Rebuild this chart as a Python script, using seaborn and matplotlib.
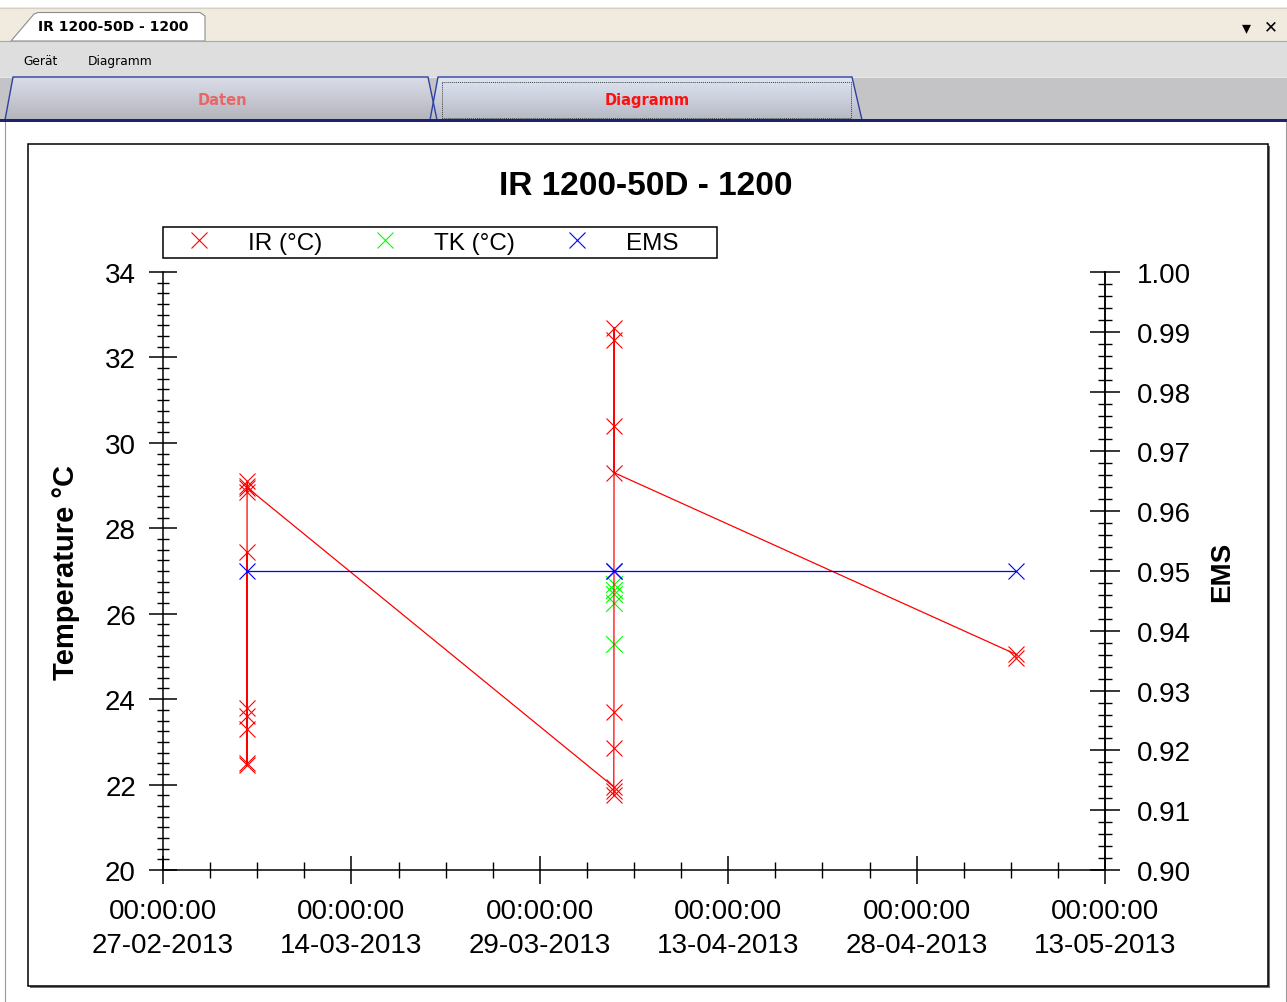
import numpy as np
import pandas as pd
import matplotlib
matplotlib.use("Agg")
import matplotlib.pyplot as plt
import matplotlib.dates as mdates
from matplotlib.ticker import FixedLocator, AutoMinorLocator, MultipleLocator, FormatStrFormatter
from matplotlib.patches import Rectangle, Polygon
from matplotlib.lines import Line2D
import seaborn as sns

# --- data ---
chart_title = "IR 1200-50D - 1200"
series_labels = ["IR (°C)", "TK (°C)", "EMS"]
series_colors = ["#FF0000", "#00FF00", "#0000FF"]

ir_times = [
    "2013-03-05 15:40", "2013-03-05 15:50", "2013-03-05 16:00", "2013-03-05 16:10",
    "2013-03-05 16:20", "2013-03-05 16:30", "2013-03-05 16:40", "2013-03-05 16:50",
    "2013-03-05 17:00", "2013-03-05 17:10",
    "2013-04-03 21:00", "2013-04-03 21:10", "2013-04-03 21:20", "2013-04-03 21:30",
    "2013-04-03 21:40", "2013-04-03 21:50", "2013-04-03 22:00", "2013-04-03 22:10",
    "2013-04-03 22:20",
    "2013-05-05 21:40", "2013-05-05 21:50",
]
ir_values = [
    23.6, 22.5, 27.45, 22.45, 23.3, 23.8, 29.0, 28.85, 29.1, 28.95,
    21.95, 21.75, 21.85, 22.85, 23.7, 30.4, 32.7, 32.4, 29.3,
    25.05, 24.97,
]

tk_times = ["2013-04-03 21:30", "2013-04-03 21:40", "2013-04-03 21:50",
            "2013-04-03 22:00", "2013-04-03 22:10"]
tk_values = [26.7, 26.55, 26.45, 26.25, 25.28]

ems_times = ["2013-03-05 16:30", "2013-04-03 21:40", "2013-04-03 21:50", "2013-05-05 21:45"]
ems_values = [0.95, 0.95, 0.95, 0.95]

tick_dates = ["2013-02-27", "2013-03-14", "2013-03-29", "2013-04-13", "2013-04-28", "2013-05-13"]

ir_df = pd.DataFrame({"time": pd.to_datetime(ir_times), "value": ir_values})
tk_df = pd.DataFrame({"time": pd.to_datetime(tk_times), "value": tk_values})
ems_df = pd.DataFrame({"time": pd.to_datetime(ems_times), "value": ems_values})

plt.rcParams["font.family"] = ["Liberation Sans", "DejaVu Sans"]

W, H = 1287, 1003
fig = plt.figure(figsize=(W / 100, H / 100), dpi=100)

# --- window chrome, drawn in pixel coordinates ---
bg = fig.add_axes([0, 0, 1, 1])
bg.set_xlim(0, W)
bg.set_ylim(H, 0)
bg.axis("off")

ui = ["DejaVu Sans"]
bg.add_patch(Rectangle((0, 8), W, 34, fc="#F1EBDF", ec="none"))
bg.plot([0, W], [8.5, 8.5], color="#D6D0C4", lw=0.8)
bg.add_patch(Polygon([(11, 42), (34, 15), (38, 13.5), (200, 13.5), (205, 17), (205, 42)],
                     closed=True, fc="white", ec="#8C8C8C", lw=0.8))
bg.text(38, 27, chart_title, fontsize=10, fontweight="bold", family=ui, va="center")
bg.text(1246, 28, "▾", fontsize=13, family=ui, ha="center", va="center")
bg.text(1271, 27, "✕", fontsize=12, family=ui, ha="center", va="center")

bg.add_patch(Rectangle((0, 42), W, 36, fc="#DEDEDE", ec="none"))
bg.plot([0, W], [42, 42], color="#A8A8A8", lw=0.8)
bg.text(23, 61, "Gerät", fontsize=8.8, family=ui, va="center")
bg.text(88, 61, "Diagramm", fontsize=8.8, family=ui, va="center")

bg.add_patch(Rectangle((0, 78), W, 43, fc="#C4C3C6", ec="none"))
bg.plot([0, W], [78, 78], color="#E6E6E6", lw=0.8)


def tab(pts, top, bottom, label, color, x_text):
    poly = Polygon(pts, closed=True, fc="none", ec="#3040A0", lw=1.0, zorder=3)
    bg.add_patch(poly)
    grad = np.linspace(0, 1, 64)[:, None, None]
    c0 = np.array(matplotlib.colors.to_rgb(top))
    c1 = np.array(matplotlib.colors.to_rgb(bottom))
    img = c0 * (1 - grad) + c1 * grad
    xs = [p[0] for p in pts]
    im = bg.imshow(img, extent=(min(xs), max(xs), 121, 78), origin="upper",
                   aspect="auto", zorder=2)
    im.set_clip_path(poly)
    bg.text(x_text, 100, label, fontsize=10.5, fontweight="bold", color=color,
            family=ui, ha="center", va="center", zorder=4)


tab([(5, 121), (13, 78), (428, 78), (437, 121)], "#DADDE9", "#B4B4BC", "Daten", "#E86666", 222)
tab([(430, 121), (438, 78), (852, 78), (862, 121)], "#DEE6F3", "#B6B9C4", "Diagramm", "#FF1010", 647)
bg.add_patch(Rectangle((442, 83), 409, 36, fill=False, ec="#404040", lw=0.7,
                       ls=(0, (1, 1)), zorder=4))
bg.set_xlim(0, W)
bg.set_ylim(H, 0)

bg.add_patch(Rectangle((0, 120), W, 2.5, fc="#1C2470", ec="none", zorder=5))
bg.add_patch(Rectangle((0, 122.5), W, H - 122.5, fc="white", ec="none"))
bg.plot([5, 5], [122, H], color="#9A9A9A", lw=0.8)
bg.plot([1285.5, 1285.5], [122, H], color="#9A9A9A", lw=0.8)

# chart panel with a small shadow
bg.add_patch(Rectangle((30, 147), 1240, 842, fc="#707070", ec="none"))
bg.add_patch(Rectangle((28, 145), 1240, 842, fc="white", ec="black", lw=1.1))

# legend frame
bg.add_patch(Rectangle((163, 228), 554, 31, fill=False, ec="black", lw=1.1))

fig.text(646 / W, 1 - 187 / H, chart_title, ha="center", va="center",
         fontsize=24, fontweight="bold")

# --- chart ---
ax = fig.add_axes([163 / W, (H - 871) / H, 942 / W, (871 - 273) / H])
ax2 = ax.twinx()

sns.scatterplot(data=tk_df, x="time", y="value", ax=ax, marker="x", color=series_colors[1],
                s=144, linewidth=0.8, legend=False, zorder=2)
sns.lineplot(data=ir_df, x="time", y="value", ax=ax, sort=False, estimator=None,
             color=series_colors[0], linewidth=0.9, marker="x", markersize=12,
             markeredgewidth=0.8, markeredgecolor=series_colors[0], legend=False, zorder=3)
sns.lineplot(data=ems_df, x="time", y="value", ax=ax2, sort=False, estimator=None,
             color=series_colors[2], linewidth=0.9, marker="x", markersize=12,
             markeredgewidth=0.8, markeredgecolor=series_colors[2], legend=False, zorder=3)

tick_nums = mdates.date2num(pd.to_datetime(tick_dates))
ax.set_xlim(tick_nums[0], tick_nums[-1])
ax.xaxis.set_major_locator(FixedLocator(tick_nums))
ax.xaxis.set_major_formatter(mdates.DateFormatter("%H:%M:%S\n%d-%m-%Y"))
ax.xaxis.set_minor_locator(AutoMinorLocator(4))

ax.set_ylim(20, 34)
ax.yaxis.set_major_locator(MultipleLocator(2))
ax.yaxis.set_minor_locator(MultipleLocator(0.25))
ax2.set_ylim(0.90, 1.00)
ax2.yaxis.set_major_locator(MultipleLocator(0.01))
ax2.yaxis.set_minor_locator(MultipleLocator(0.002))
ax2.yaxis.set_major_formatter(FormatStrFormatter("%.2f"))

ax.tick_params(axis="both", which="major", direction="inout", length=20, width=1.1,
               labelsize=20, color="black")
ax.tick_params(axis="y", which="major", pad=9.5)
ax.tick_params(axis="x", which="major", pad=10.5)
ax.tick_params(axis="y", which="minor", direction="inout", length=8, width=1.0)
ax.tick_params(axis="x", which="minor", direction="inout", length=11, width=1.0)
ax2.tick_params(axis="y", which="major", direction="inout", length=22, width=1.1,
                labelsize=20, pad=12)
ax2.tick_params(axis="y", which="minor", direction="inout", length=10, width=1.0)

for lbl in ax.get_xticklabels():
    lbl.set_linespacing(1.38)

for a in (ax, ax2):
    a.spines["top"].set_visible(False)
    for s in ("left", "right", "bottom"):
        a.spines[s].set_linewidth(1.1)
ax2.spines["left"].set_visible(False)
ax2.spines["bottom"].set_visible(False)

ax.set_xlabel("")
ax.set_ylabel("Temperature °C", fontsize=21, fontweight="bold")
ax.yaxis.set_label_coords(-0.088, 0.5)
ax2.set_xlabel("")
ax2.set_ylabel("EMS", fontsize=20, fontweight="bold", rotation=90)
ax2.yaxis.set_label_coords(1.111, 0.5)

handles = [Line2D([], [], linestyle="None", marker="x", markersize=12, markeredgewidth=0.8,
                  color=c) for c in series_colors]
ax2.legend(handles, series_labels, loc="center left", ncol=3, frameon=False,
           bbox_to_anchor=(163 / W, 1 - 243.5 / H), bbox_transform=fig.transFigure,
           borderaxespad=0, borderpad=0.06, handlelength=2.84, handletextpad=0.6,
           columnspacing=1.15, fontsize=17.5)

fig.savefig("out.png", dpi=100)
